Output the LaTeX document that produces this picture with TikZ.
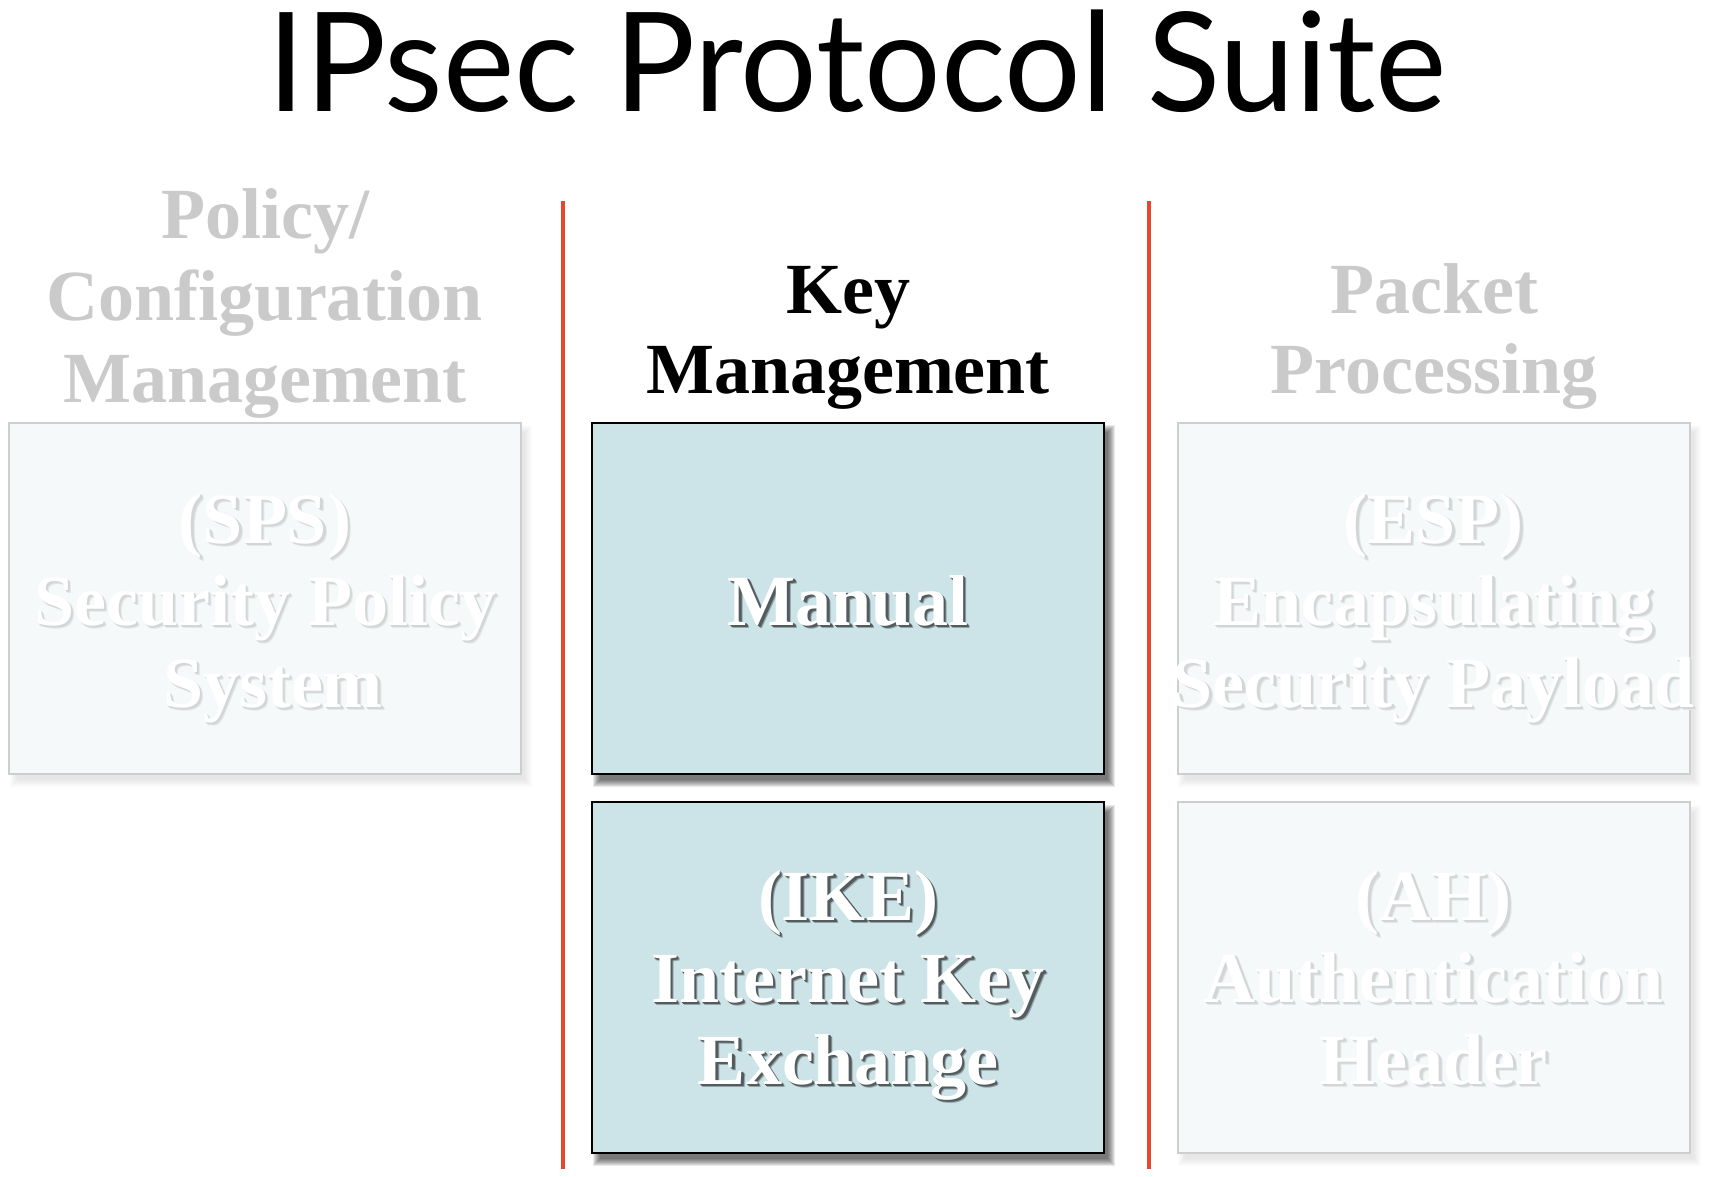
\documentclass[tikz,border=0pt]{standalone}
\usepackage{fontspec}
\setmainfont{Liberation Serif}
\newfontfamily\titlefont{Lato}
\usetikzlibrary{calc}
\definecolor{keyfill}{RGB}{204,228,232}
\definecolor{fadefill}{RGB}{245,249,250}
\definecolor{fadeline}{RGB}{206,206,206}
\definecolor{headgrey}{RGB}{202,202,202}
\definecolor{divred}{RGB}{230,72,46}
\colorlet{darknear}{keyfill!40!black}
\colorlet{darkfar}{keyfill!72!black}
\colorlet{lightnear}{fadefill!86!black}
\colorlet{lightfar}{fadefill!93!black}
\tikzset{
  headtxt/.style={font=\fontsize{72}{82}\selectfont\bfseries, anchor=base, inner sep=0pt},
  boxtxt/.style={font=\fontsize{72}{82}\selectfont\bfseries, anchor=base, inner sep=0pt},
  keybox/.style={draw=black, line width=2pt, fill=keyfill, minimum width=512pt, minimum height=351pt, inner sep=0pt},
  fadebox/.style={draw=fadeline, line width=2pt, fill=fadefill, minimum width=512pt, minimum height=351pt, inner sep=0pt},
  divider/.style={draw=divred, line width=4.5pt}
}
\newcommand\boxshadow[2]{%
  \foreach \e in {-2,-1,...,5}{%
    \fill[black,opacity=#2] ($(#1.north west)+(6-\e,8-\e)$) rectangle ($(#1.south east)+(6+\e,8+\e)$);}}
% shadowed white text in one box: #1 text, #2 near shadow colour, #3 far shadow colour
\newcommand\shadowed[3]{%
  \rlap{\hspace{3.5pt}\raisebox{-3.5pt}{\textcolor{#3}{#1}}}%
  \rlap{\hspace{2.5pt}\raisebox{-2.5pt}{\textcolor{#2}{#1}}}%
  \rlap{\hspace{1.5pt}\raisebox{-1.5pt}{\textcolor{#2}{#1}}}%
  \textcolor{white}{#1}}
\newcommand\shtxt[5]{%
  \node[boxtxt] (#1) at (#2,#3) {\shadowed{#4}{#5near}{#5far}};}
\begin{document}
\begin{tikzpicture}[x=1pt,y=-1pt]
\useasboundingbox[fill=white] (0,0) rectangle (1714,1176);

% title
\node[anchor=base, inner sep=0pt, font=\titlefont\fontsize{138}{140}\selectfont] (title) at (857,111) {\scalebox{0.98}[1]{IPsec Protocol Suite}};

% headings
\node[headtxt, text=headgrey] (pol1) at (265,238) {Policy/};
\node[headtxt, text=headgrey] (pol2) at (265,320) {Configuration};
\node[headtxt, text=headgrey] (pol3) at (265,402) {Management};
\node[headtxt, text=black] (key1) at (848,313) {Key};
\node[headtxt, text=black] (key2) at (848,393) {Management};
\node[headtxt, text=headgrey] (pkt1) at (1434,313) {Packet};
\node[headtxt, text=headgrey] (pkt2) at (1434,393) {Processing};

% dividers
\coordinate (d1t) at (563,201);
\coordinate (d1b) at (563,1169);
\coordinate (d2t) at (1149,201);
\coordinate (d2b) at (1149,1169);
\draw[divider] (d1t) -- (d1b);
\draw[divider] (d2t) -- (d2b);

% box placeholders for shadows
\path (265,598) node[minimum width=512pt, minimum height=351pt, inner sep=0pt] (spsA) {};
\path (848,598) node[minimum width=512pt, minimum height=351pt, inner sep=0pt] (manA) {};
\path (848,977.5) node[minimum width=512pt, minimum height=351pt, inner sep=0pt] (ikeA) {};
\path (1433.5,598) node[minimum width=512pt, minimum height=351pt, inner sep=0pt] (espA) {};
\path (1433.5,977.5) node[minimum width=512pt, minimum height=351pt, inner sep=0pt] (ahA) {};
\boxshadow{spsA}{0.012}
\boxshadow{espA}{0.012}
\boxshadow{ahA}{0.012}
\boxshadow{manA}{0.085}
\boxshadow{ikeA}{0.085}

% boxes
\node[fadebox] (sps) at (265,598) {};
\node[keybox] (man) at (848,598) {};
\node[keybox] (ike) at (848,977.5) {};
\node[fadebox] (esp) at (1433.5,598) {};
\node[fadebox] (ah) at (1433.5,977.5) {};

% box texts
\shtxt{sps1}{265}{543}{(SPS)}{light}
\shtxt{sps2}{265}{625}{Security Policy}{light}
\shtxt{sps3}{273}{707}{System}{light}
\shtxt{man1}{848}{625}{Manual}{dark}
\shtxt{ike1}{848}{920}{(IKE)}{dark}
\shtxt{ike2}{848}{1002}{Internet Key}{dark}
\shtxt{ike3}{848}{1084}{Exchange}{dark}
\shtxt{esp1}{1433.5}{543}{(ESP)}{light}
\shtxt{esp2}{1433.5}{625}{Encapsulating}{light}
\shtxt{esp3}{1433.5}{707}{Security Payload}{light}
\shtxt{ah1}{1433.5}{920}{(AH)}{light}
\shtxt{ah2}{1433.5}{1002}{Authentication}{light}
\shtxt{ah3}{1433.5}{1084}{Header}{light}
\end{tikzpicture}
\end{document}
